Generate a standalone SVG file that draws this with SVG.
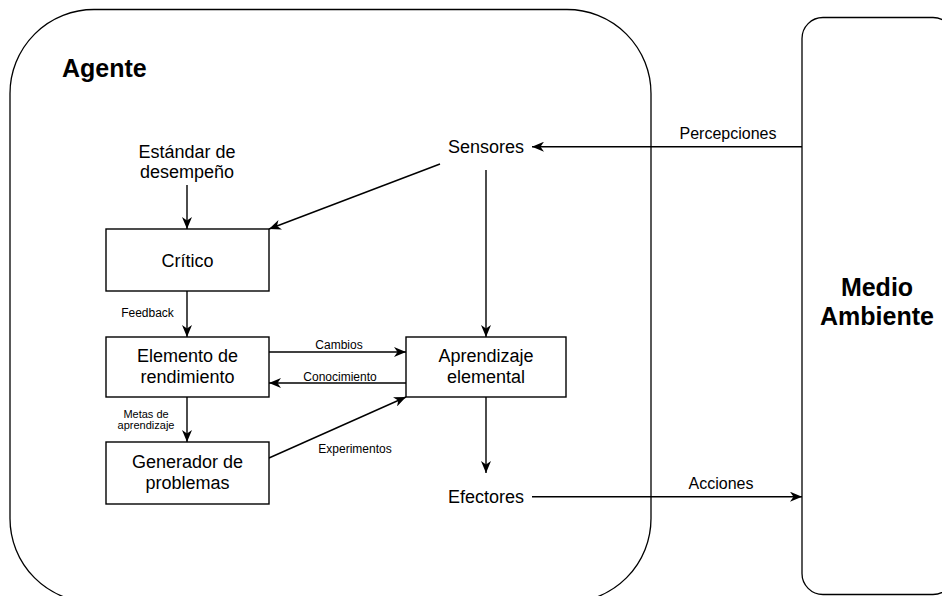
<svg xmlns="http://www.w3.org/2000/svg" width="942" height="596" viewBox="0 0 942 596">
<defs>
<style>
.box{fill:#fff;stroke:#000;stroke-width:1.4}
.cont{fill:none;stroke:#000;stroke-width:1.3}
.ln{fill:none;stroke:#000;stroke-width:1.4}
.t18{font-family:"Liberation Sans",Arial,sans-serif;font-size:18px;fill:#000;text-anchor:middle}
.t16{font-family:"Liberation Sans",Arial,sans-serif;font-size:16px;fill:#000;text-anchor:middle}
.t12{font-family:"Liberation Sans",Arial,sans-serif;font-size:12px;fill:#000;text-anchor:middle}
.t11{font-family:"Liberation Sans",Arial,sans-serif;font-size:11px;fill:#000;text-anchor:middle}
.tb{font-family:"Liberation Sans",Arial,sans-serif;font-size:25px;font-weight:bold;fill:#000}
</style>
<marker id="arr" viewBox="0 0 12 10" refX="12" refY="5" markerWidth="12" markerHeight="10" markerUnits="userSpaceOnUse" orient="auto">
<path d="M0,0 L12,5 L0,10 L3.5,5 Z" fill="#000"/>
</marker>
</defs>
<rect width="942" height="596" fill="#fff"/>
<g id="agente">
<rect class="cont" x="10" y="9.5" width="641" height="593" rx="84" ry="84"/>
<text class="tb" x="62" y="77">Agente</text>
</g>
<g id="medio-ambiente">
<rect class="cont" x="802" y="17.5" width="152" height="577" rx="21" ry="21"/>
<text class="tb" x="877" y="296" text-anchor="middle">Medio</text>
<text class="tb" x="877" y="325" text-anchor="middle">Ambiente</text>
</g>
<g id="connectors">
<line class="ln" x1="802" y1="146.7" x2="532" y2="146.7" marker-end="url(#arr)"/>
<line class="ln" x1="440" y1="164" x2="269" y2="229" marker-end="url(#arr)"/>
<line class="ln" x1="486" y1="170" x2="486" y2="337" marker-end="url(#arr)"/>
<line class="ln" x1="187" y1="185" x2="187" y2="229" marker-end="url(#arr)"/>
<line class="ln" x1="187" y1="291" x2="187" y2="337" marker-end="url(#arr)"/>
<line class="ln" x1="269" y1="352" x2="406" y2="352" marker-end="url(#arr)"/>
<line class="ln" x1="406" y1="383" x2="269" y2="383" marker-end="url(#arr)"/>
<line class="ln" x1="187" y1="397" x2="187" y2="442" marker-end="url(#arr)"/>
<line class="ln" x1="269" y1="458" x2="406" y2="397" marker-end="url(#arr)"/>
<line class="ln" x1="486" y1="397" x2="486" y2="473" marker-end="url(#arr)"/>
<line class="ln" x1="532" y1="496.7" x2="802" y2="496.7" marker-end="url(#arr)"/>
<text class="t16" x="728" y="138.5">Percepciones</text>
<text class="t16" x="721" y="489">Acciones</text>
<text class="t12" x="147.5" y="316.5">Feedback</text>
<text class="t12" x="339" y="349">Cambios</text>
<text class="t12" x="340" y="381">Conocimiento</text>
<text class="t11" x="146" y="417.5">Metas de</text>
<text class="t11" x="146" y="429">aprendizaje</text>
<text class="t12" x="355" y="453.3">Experimentos</text>
</g>
<g id="sensores">
<text class="t18" x="486" y="153">Sensores</text>
</g>
<g id="estandar">
<text class="t18" x="187" y="157.5">Estándar de</text>
<text class="t18" x="187" y="178">desempeño</text>
</g>
<g id="critico">
<rect class="box" x="106" y="229" width="163" height="62"/>
<text class="t18" x="187.5" y="267">Crítico</text>
</g>
<g id="elemento-rendimiento">
<rect class="box" x="106" y="337" width="163" height="60"/>
<text class="t18" x="187.5" y="362">Elemento de</text>
<text class="t18" x="187.5" y="383">rendimiento</text>
</g>
<g id="generador-problemas">
<rect class="box" x="106" y="442" width="163" height="62"/>
<text class="t18" x="187.5" y="468">Generador de</text>
<text class="t18" x="187.5" y="488.5">problemas</text>
</g>
<g id="aprendizaje-elemental">
<rect class="box" x="406" y="337" width="160" height="60"/>
<text class="t18" x="486" y="362">Aprendizaje</text>
<text class="t18" x="486" y="383">elemental</text>
</g>
<g id="efectores">
<text class="t18" x="486" y="502.5">Efectores</text>
</g>
</svg>
